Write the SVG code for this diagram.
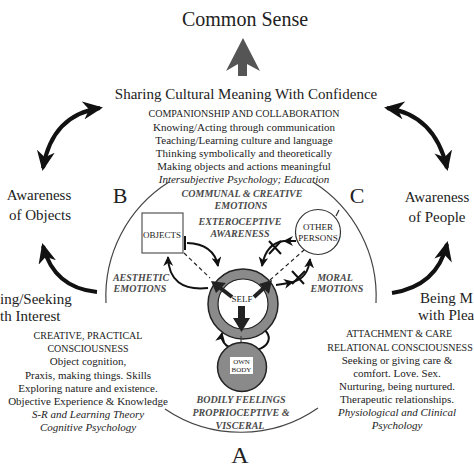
<svg xmlns="http://www.w3.org/2000/svg" width="474" height="474" viewBox="0 0 474 474" font-family="Liberation Serif, DejaVu Serif, serif">
<defs>
<style>
text{font-family:'Liberation Serif','DejaVu Serif',serif;fill:#222;text-anchor:middle}
.t11{font-size:11px}
.caps{font-size:10px}
.it{font-style:italic}
.lab{font-size:10px;font-style:italic;font-weight:bold;fill:#4a4a4a}
.big{font-size:15px}
.thick{fill:none;stroke:#111;stroke-width:4}
.thin{fill:none;stroke:#111;stroke-width:2}
.arc{fill:none;stroke:#444;stroke-width:1.2}
.dash{fill:none;stroke:#222;stroke-width:1.2;stroke-dasharray:4 3}
</style>
<marker id="bh" viewBox="0 0 20 18" refX="17" refY="9" markerWidth="20" markerHeight="18" markerUnits="userSpaceOnUse" orient="auto-start-reverse">
<path d="M0,0 L20,9 L0,18 L6,9 z" fill="#111"/>
</marker>
<marker id="sh" viewBox="0 0 10 10" refX="9" refY="5" markerWidth="10" markerHeight="10" markerUnits="userSpaceOnUse" orient="auto-start-reverse">
<path d="M0,0 L10,5 L0,10 L3,5 z" fill="#111"/>
</marker>
</defs>
<rect width="474" height="474" fill="#fff"/>

<g id="common-sense">
<text x="245" y="26" style="font-size:20px">Common Sense</text>
<polygon points="243,38 260,71 247,64 247,76 238,76 238,64 226,71" fill="#555"/>
</g>

<g id="sharing">
<text class="big" x="246" y="99">Sharing Cultural Meaning With Confidence</text>
<text class="caps" x="244" y="117">COMPANIONSHIP AND COLLABORATION</text>
<text class="t11" x="244" y="131">Knowing/Acting through communication</text>
<text class="t11" x="244" y="144">Teaching/Learning culture and language</text>
<text class="t11" x="244" y="157">Thinking symbolically and theoretically</text>
<text class="t11" x="244" y="170">Making objects and actions meaningful</text>
<text class="t11 it" x="244" y="183">Intersubjective Psychology; Education</text>
</g>

<g id="awareness-objects">
<text class="big" x="39" y="200">Awareness</text>
<text class="big" x="40" y="220">of Objects</text>
</g>
<g id="awareness-people">
<text class="big" x="437" y="202">Awareness</text>
<text class="big" x="437" y="222">of People</text>
</g>
<g id="seeking">
<text class="big" x="0" y="304" style="text-anchor:start">ing/Seeking</text>
<text class="big" x="0" y="321" style="text-anchor:start">th Interest</text>
</g>
<g id="being-moved">
<text class="big" x="420" y="303" style="text-anchor:start">Being M</text>
<text class="big" x="418" y="320" style="text-anchor:start">with Plea</text>
</g>

<g id="creative">
<text class="caps" x="88" y="339">CREATIVE, PRACTICAL</text>
<text class="caps" x="88" y="352">CONSCIOUSNESS</text>
<text class="t11" x="88" y="365">Object cognition,</text>
<text class="t11" x="88" y="379">Praxis, making things. Skills</text>
<text class="t11" x="88" y="392">Exploring nature and existence.</text>
<text class="t11" x="88" y="405">Objective Experience &amp; Knowledge</text>
<text class="t11 it" x="88" y="418">S-R and Learning Theory</text>
<text class="t11 it" x="88" y="431">Cognitive Psychology</text>
</g>

<g id="attachment">
<text class="caps" x="399" y="337">ATTACHMENT &amp; CARE</text>
<text class="caps" x="400" y="351">RELATIONAL CONSCIOUSNESS</text>
<text class="t11" x="397" y="364">Seeking or giving care &amp;</text>
<text class="t11" x="397" y="377">comfort. Love. Sex.</text>
<text class="t11" x="397" y="390">Nurturing, being nurtured.</text>
<text class="t11" x="397" y="403">Therapeutic relationships.</text>
<text class="t11 it" x="397" y="416">Physiological and Clinical</text>
<text class="t11 it" x="397" y="429">Psychology</text>
</g>

<g id="labels">
<text style="font-size:22px" x="120" y="203">B</text>
<text style="font-size:22px" x="357" y="203">C</text>
<text style="font-size:24px" x="240" y="463">A</text>
<text class="lab" x="242" y="197">COMMUNAL &amp; CREATIVE</text>
<text class="lab" x="241" y="209">EMOTIONS</text>
<text class="lab" x="240" y="225">EXTEROCEPTIVE</text>
<text class="lab" x="240" y="237">AWARENESS</text>
<text class="lab" x="141" y="281">AESTHETIC</text>
<text class="lab" x="140" y="292">EMOTIONS</text>
<text class="lab" x="335" y="281">MORAL</text>
<text class="lab" x="337" y="292">EMOTIONS</text>
<text class="lab" x="241" y="403">BODILY FEELINGS</text>
<text class="lab" x="241" y="416">PROPRIOCEPTIVE &amp;</text>
<text class="lab" x="240" y="429">VISCERAL</text>
</g>

<g id="connectors">
<path class="arc" d="M169,182 A135 135 0 0 0 106,303"/>
<path class="arc" d="M313,182 A135 135 0 0 1 376,303"/>
<path class="arc" d="M165,409 A135 135 0 0 0 318,408"/>
<path class="thick" d="M100,108 Q52,115 43,168" marker-start="url(#bh)" marker-end="url(#bh)"/>
<path class="thick" d="M387,108 Q435,115 447,168" marker-start="url(#bh)" marker-end="url(#bh)"/>
<path class="thick" d="M97,292 Q54,288 43,246" marker-end="url(#bh)"/>
<path class="thick" d="M392,293 Q437,286 447,244" marker-end="url(#bh)"/>
<path class="dash" d="M184,253 L210,278"/>
<path class="dash" d="M270,280 L304,250"/>
<path class="thin" d="M187,243 Q214,244 218,266" marker-end="url(#sh)"/>
<line x1="185" y1="236" x2="185" y2="250" stroke="#111" stroke-width="2"/>
<path class="thin" d="M208,288 Q169,292 168,257" marker-end="url(#sh)"/>
<path class="thin" d="M296,241 L284,241" marker-end="url(#sh)"/>
<path class="thin" d="M284,241 Q266,243 262,266" marker-end="url(#sh)"/>
<path class="thin" d="M276,285 Q284,284 293,282" marker-end="url(#sh)"/>
<path class="thin" d="M293,282 Q308,278 310,259" marker-end="url(#sh)"/>
<path d="M269,241 L281,254 M281,241 L269,254" stroke="#111" stroke-width="2"/>
<path d="M292,271 L304,284 M305,271 L292,284" stroke="#111" stroke-width="2"/>
<line x1="336" y1="216" x2="339" y2="210" stroke="#333" stroke-width="1.2"/>
<path class="thin" d="M257,326 C276,332 272,352 245,351 C228,350 220,343 222,333" marker-end="url(#sh)"/>
<line x1="253" y1="326" x2="262" y2="322" stroke="#111" stroke-width="2"/>
</g>

<g id="objects">
<rect x="142" y="213" width="41" height="40" fill="#fff" stroke="#555" stroke-width="1.2"/>
<text x="162" y="238" style="font-size:9px">OBJECTS</text>
</g>

<g id="other-persons">
<circle cx="318" cy="232" r="22.5" fill="#fff" stroke="#333" stroke-width="1.2"/>
<text x="318" y="230" style="font-size:9px">OTHER</text>
<text x="318" y="241" style="font-size:9px">PERSONS</text>
</g>

<g id="self">
<circle cx="243" cy="304" r="35" fill="#8a8a8a" stroke="#222" stroke-width="1.5"/>
<circle cx="243" cy="304" r="25" fill="#fff" stroke="#222" stroke-width="1.2"/>
<text x="242" y="302" style="font-size:9px">SELF</text>
<path d="M232,297 L219,287" stroke="#222" stroke-width="4"/>
<polygon points="211,281 226,283 216,293" fill="#222"/>
<path d="M254,297 L265,287" stroke="#222" stroke-width="4"/>
<polygon points="272,280 269,294 259,284" fill="#222"/>
<rect x="238" y="306" width="7" height="13" fill="#222"/>
<polygon points="233,318 250,318 241.5,332" fill="#222"/>
<line x1="241" y1="336" x2="241" y2="343" stroke="#444" stroke-width="1.2"/>
</g>

<g id="own-body">
<circle cx="242" cy="367" r="24.5" fill="#8a8a8a" stroke="#222" stroke-width="1.5"/>
<rect x="230" y="357" width="23" height="17" fill="#fff"/>
<text x="241.5" y="364" style="font-size:7px">OWN</text>
<text x="241.5" y="372" style="font-size:7px">BODY</text>
</g>
</svg>
